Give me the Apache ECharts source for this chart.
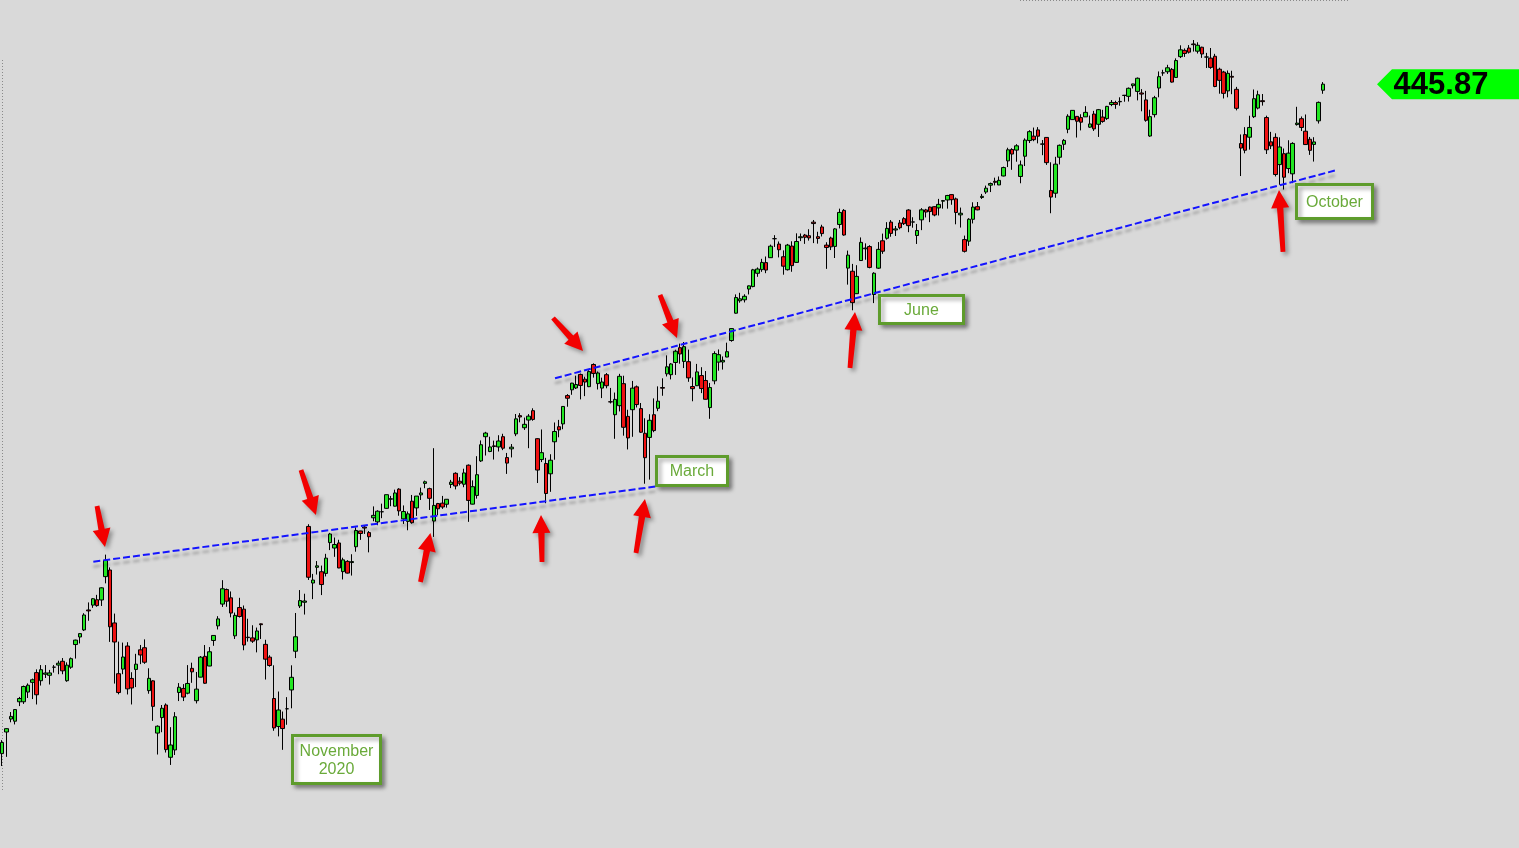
<!DOCTYPE html>
<html>
<head>
<meta charset="utf-8">
<style>
html,body{margin:0;padding:0;background:#d9d9d9;}
#c{width:1519px;height:848px;}
</style>
<script src="https://cdn.jsdelivr.net/npm/echarts@6/dist/echarts.min.js"></script>
</head>
<body>
<div id="c"></div>
<script>
// ---- trading days (category axis) ----
const months = ['2020-07','2020-08','2020-09','2020-10','2020-11','2020-12','2021-01','2021-02','2021-03','2021-04','2021-05','2021-06','2021-07','2021-08','2021-09','2021-10'];
const monthDays = [
 [30,31],
 [3,4,5,6,7,10,11,12,13,14,17,18,19,20,21,24,25,26,27,28,31],
 [1,2,3,4,8,9,10,11,14,15,16,17,18,21,22,23,24,25,28,29,30],
 [1,2,5,6,7,8,9,12,13,14,15,16,19,20,21,22,23,26,27,28,29,30],
 [2,3,4,5,6,9,10,11,12,13,16,17,18,19,20,23,24,25,27,30],
 [1,2,3,4,7,8,9,10,11,14,15,16,17,18,21,22,23,24,28,29,30,31],
 [4,5,6,7,8,11,12,13,14,15,19,20,21,22,25,26,27,28,29],
 [1,2,3,4,5,8,9,10,11,12,16,17,18,19,22,23,24,25,26],
 [1,2,3,4,5,8,9,10,11,12,15,16,17,18,19,22,23,24,25,26,29,30,31],
 [1,5,6,7,8,9,12,13,14,15,16,19,20,21,22,23,26,27,28,29,30],
 [3,4,5,6,7,10,11,12,13,14,17,18,19,20,21,24,25,26,27,28],
 [1,2,3,4,7,8,9,10,11,14,15,16,17,18,21,22,23,24,25,28,29,30],
 [1,2,6,7,8,9,12,13,14,15,16,19,20,21,22,23,26,27,28,29,30],
 [2,3,4,5,6,9,10,11,12,13,16,17,18,19,20,23,24,25,26,27,30,31],
 [1,2,3,7,8,9,10,13,14,15,16,17,20,21,22,23,24,27,28,29,30],
 [1,4,5,6,7,8,11,12,13,14,15]
];

// ---- daily prices ----
const opens = [
 321.9,325.9,
 328.3,327.9,331.5,331.5,333.3,335.1,336.9,335.4,336.6,336.4,337.9,338.3,339.0,335.4,337.9,342.1,343.5,344.8,348.5,349.4,350.4,
 350.35,354.67,355.9,346.1,336.7,337.55,341.82,335.82,337.49,341.12,341.51,333.56,335.37,325.7,328.57,330.9,321.22,322.58,333.22,333.97,333.09,
 337.69,331.7,336.06,339.91,338.12,342.85,345.56,349.59,352.28,350.75,343.71,348.96,348.65,343.46,343.33,342.96,345.93,342.13,339.76,332.1,326.91,328.28,
 330.2,333.69,340.86,349.24,349.93,363.97,353.49,356.4,355.58,355.27,360.98,359.97,360.91,355.6,357.5,357.28,360.21,363.13,363.84,362.83,
 365.57,364.82,366.68,367.32,369.02,367.72,370.88,365.37,364.9,368.64,367.4,369.82,371.94,370.97,364.97,368.21,368.28,368.08,371.74,373.81,372.34,371.78,
 375.31,368.1,369.71,376.1,380.59,377.85,378.89,378.69,380.59,376.72,378.34,381.11,384.49,382.25,383.67,385.41,380.22,376.36,375.63,
 373.72,379.65,382.44,382.96,388.2,389.27,389.61,392.12,391.24,389.85,393.96,390.42,389.59,392.07,387.06,384.66,386.33,390.41,384.35,
 385.59,389.82,385.79,381.22,380.46,384.66,385.85,389.69,392.23,392.07,394.33,397.07,394.53,394.48,389.88,390.03,391.91,391.0,385.98,390.93,394.4,394.42,395.34,
 398.4,403.46,405.76,405.94,407.93,408.39,410.85,411.53,412.83,413.74,417.25,416.26,413.91,411.51,415.89,412.87,417.44,417.93,417.81,420.32,417.63,
 419.43,416.07,417.38,415.83,419.89,422.5,411.81,411.23,407.07,413.21,415.39,415.8,406.92,411.8,416.87,417.34,420.33,418.87,420.17,420.97,
 422.57,420.37,417.85,420.75,422.59,423.11,423.18,422.96,424.2,424.43,425.42,424.63,421.67,417.09,416.8,420.85,423.19,424.89,425.9,427.17,427.88,427.21,
 428.87,431.67,433.78,433.66,428.78,432.53,435.43,436.24,437.4,434.81,436.01,426.19,425.68,432.34,434.74,437.52,439.31,439.91,439.68,439.82,437.91,
 440.34,438.44,439.78,439.5,442.1,442.46,442.61,443.82,443.62,445.59,444.53,444.24,442.96,436.27,440.23,445.16,447.97,448.17,448.61,447.12,450.97,452.13,
 452.56,453.32,451.98,452.71,450.89,450.7,451.04,448.64,448.12,444.62,447.32,444.92,434.88,436.53,436.05,439.85,441.44,442.81,439.69,435.19,436.02,
 430.98,433.0,430.24,429.27,438.39,439.48,437.16,435.67,434.71,439.08,444.75
];
const highs = [
 324.4,326.6,
 329.6,330.1,332.4,334.5,334.9,335.8,337.5,338.3,338.3,337.4,338.3,339.1,339.6,338.8,339.7,343.0,344.2,347.9,349.9,350.7,351.3,
 352.7,358.75,356.38,347.83,342.64,342.46,342.53,336.97,340.38,342.02,343.06,337.7,335.49,327.13,330.9,331.2,326.8,329.58,334.96,334.77,338.29,
 338.74,337.02,339.96,342.01,341.63,343.85,347.35,354.02,352.47,351.93,348.02,350.75,349.33,346.88,345.67,345.24,345.99,342.98,340.12,338.25,333.4,329.69,
 332.36,338.25,347.94,352.19,351.51,364.38,355.18,357.56,356.72,358.9,362.78,361.92,361.5,358.18,357.72,358.82,363.81,363.16,364.18,363.12,
 367.68,366.96,368.19,369.85,369.62,370.78,371.05,367.86,366.74,369.8,369.59,371.16,372.46,371.15,378.46,368.33,369.62,369.03,372.59,374.0,373.1,374.66,
 375.45,372.5,376.98,379.9,381.49,380.58,379.86,380.86,381.13,377.58,379.23,384.79,384.95,384.13,384.77,385.85,380.32,381.93,376.67,
 377.34,383.22,383.7,386.24,388.47,390.56,391.89,392.28,391.69,392.9,394.17,392.66,391.52,392.38,389.62,388.76,392.23,391.88,385.58,
 390.92,390.07,386.83,384.0,384.76,387.68,389.91,391.4,395.65,394.21,396.69,397.83,398.12,396.72,391.57,394.07,393.46,392.75,390.55,396.41,396.75,395.45,398.0,
 400.67,406.94,407.24,406.96,408.58,411.67,411.93,413.53,413.96,416.16,417.91,416.74,415.09,416.29,416.78,418.25,418.22,418.14,419.01,420.72,418.54,
 419.84,416.6,417.63,419.21,422.82,422.74,415.05,412.59,412.35,417.49,416.39,416.06,411.05,416.63,418.2,420.32,420.71,419.61,420.72,421.25,
 422.72,421.23,419.99,422.92,422.78,423.21,423.26,424.63,424.43,425.37,425.46,424.87,423.02,417.83,421.06,424.0,424.05,425.55,427.09,427.65,428.56,428.78,
 430.6,434.1,434.01,434.76,431.73,435.84,437.35,437.84,437.92,435.53,436.06,431.41,432.42,434.7,435.72,440.3,441.03,439.94,440.3,441.8,440.06,
 440.93,441.28,441.12,441.85,442.94,442.8,443.44,443.88,445.26,445.94,447.11,444.96,444.63,441.14,443.71,448.23,448.54,449.46,448.86,450.65,453.07,452.49,
 453.11,454.05,453.63,452.81,451.67,452.57,451.49,448.92,448.34,448.41,448.36,445.37,436.56,437.91,440.03,444.89,444.67,444.05,440.04,437.04,436.77,
 436.03,433.96,435.49,435.12,441.68,439.89,440.26,436.1,436.05,442.66,446.26
];
const lows = [
 319.6,321.3,
 327.7,327.3,330.7,331.1,332.2,332.0,331.0,334.5,335.9,334.7,336.9,336.6,336.6,335.2,337.6,339.5,342.3,344.6,346.5,348.9,349.1,
 349.24,353.43,342.59,334.87,332.88,336.61,332.85,331.0,334.22,338.47,338.52,332.99,327.97,321.73,325.86,322.1,319.8,321.64,331.63,331.63,332.88,
 335.01,331.19,336.01,334.82,338.09,341.86,344.89,349.06,349.09,347.14,343.13,347.1,341.04,342.64,342.4,340.65,343.13,335.62,337.99,326.13,325.09,322.6,
 327.24,330.29,339.59,348.86,347.65,354.06,350.51,355.06,351.26,354.71,359.59,358.34,356.24,354.15,355.25,354.87,359.29,361.48,362.58,359.17,
 364.93,364.2,365.5,367.22,367.72,367.67,365.95,364.43,363.26,364.47,365.92,368.87,371.05,367.02,362.03,366.03,367.22,367.45,371.07,370.83,371.57,371.23,
 364.82,368.05,369.12,375.91,377.1,377.72,376.36,377.85,378.1,373.7,376.75,380.69,383.25,381.84,378.46,383.54,372.01,375.89,368.27,
 370.38,376.32,380.48,381.97,386.14,388.35,389.42,387.5,388.1,389.77,391.53,389.33,387.74,389.55,386.74,380.2,385.27,380.78,378.23,
 380.57,386.0,381.31,371.88,372.64,381.42,385.31,388.17,391.74,391.2,392.03,394.11,393.3,390.75,387.15,389.97,388.66,387.47,383.9,390.29,392.81,393.02,395.31,
 398.18,403.38,405.4,405.45,406.93,408.26,410.2,411.12,410.87,413.69,415.73,413.79,410.59,411.36,411.13,412.79,416.81,416.3,416.9,416.44,416.34,
 417.67,411.67,415.15,413.68,419.16,417.81,408.75,404.0,407.02,413.18,413.36,411.77,405.33,411.67,414.45,417.08,417.62,417.76,418.99,419.79,
 418.46,419.29,416.28,418.84,421.19,420.32,421.41,421.55,422.82,422.82,423.54,419.92,419.32,414.7,415.93,420.08,422.51,424.62,425.55,425.89,427.13,427.18,
 428.8,430.52,430.01,431.51,427.52,430.71,434.97,435.31,434.91,432.72,430.92,421.97,424.83,431.01,433.69,436.79,439.26,435.99,437.31,439.81,437.77,
 437.21,436.1,438.73,439.25,441.8,441.31,441.88,442.62,442.66,445.07,442.87,440.85,438.92,436.12,439.71,443.44,447.42,447.77,446.16,447.06,450.71,450.92,
 451.55,451.91,451.55,450.74,448.86,448.72,445.31,444.11,443.22,443.44,444.02,441.02,428.86,433.07,433.75,439.6,441.21,441.9,432.94,433.85,428.78,
 427.23,426.36,429.39,427.54,438.2,437.19,434.62,432.78,431.54,438.58,444.09
];
const closes = [
 323.96,326.52,
 328.79,330.06,332.11,334.33,334.57,335.57,332.8,337.44,336.83,336.84,337.91,338.64,337.23,338.28,339.48,342.92,344.12,347.57,348.33,350.58,349.31,
 352.6,357.7,345.39,342.57,333.21,339.79,333.89,334.06,338.46,340.17,338.82,335.84,330.65,326.97,330.3,322.64,323.5,328.73,334.19,332.37,334.89,
 337.04,333.84,339.76,334.93,340.76,343.78,346.85,352.43,350.13,347.93,347.5,347.29,342.01,343.38,342.73,344.61,345.78,339.39,338.22,326.66,329.98,326.54,
 330.2,336.03,343.54,350.24,350.16,354.56,354.04,356.67,353.21,358.1,362.57,360.62,356.28,357.78,355.33,357.46,363.22,362.66,363.67,362.06,
 366.02,366.79,366.69,369.85,369.09,370.17,366.85,366.73,366.3,364.66,369.59,370.17,372.24,369.18,367.86,367.24,367.57,369.0,372.17,371.46,371.99,373.88,
 368.79,371.33,373.55,379.1,381.26,378.69,378.77,379.79,378.46,375.7,378.65,383.89,384.24,382.88,384.39,383.79,374.41,377.63,370.07,
 376.23,381.55,381.85,386.19,387.71,390.51,390.25,390.08,390.71,392.64,392.3,392.39,390.72,390.03,387.03,387.5,391.77,382.33,380.36,
 389.58,386.54,381.42,376.7,383.63,381.72,387.17,389.58,393.53,394.06,396.41,395.91,397.26,391.48,389.48,392.59,389.5,387.52,389.7,395.98,395.78,394.73,396.33,
 400.61,406.36,406.12,406.59,408.52,411.49,411.64,412.86,411.45,415.87,417.26,415.21,412.17,416.07,412.27,416.74,417.61,417.52,417.4,420.06,417.3,
 418.2,415.62,415.75,419.07,422.12,417.94,414.21,405.41,410.28,416.58,415.52,411.94,410.86,415.28,414.94,419.17,418.24,419.07,419.29,420.04,
 419.67,420.33,418.77,422.6,422.19,422.28,421.65,423.61,424.31,425.26,424.48,422.11,421.97,414.92,420.86,423.11,422.6,425.1,426.61,427.47,427.7,428.06,
 430.43,433.72,432.93,434.46,430.92,435.52,437.08,435.59,436.24,434.75,431.34,424.97,431.06,434.55,435.46,439.94,441.02,439.01,438.83,440.65,438.51,
 437.59,441.15,438.98,441.76,442.49,442.13,442.68,443.78,445.11,445.92,446.97,444.04,439.18,439.86,443.36,447.26,447.97,448.91,446.26,450.25,452.23,451.56,
 451.8,453.19,453.08,451.46,450.91,448.98,445.44,446.58,444.17,447.88,447.17,441.4,434.04,433.63,437.86,443.18,443.91,442.64,433.72,434.45,429.14,
 434.24,428.64,433.1,434.9,438.66,437.86,434.69,433.62,435.18,442.5,445.87
];

// ---- trend lines: [startIndex, startPrice, endIndex, endPrice] ----
const trendLines = [
 [21.12, 357.44, 151.5, 371.37],
 [128.1, 391.41, 309.3, 429.98]
];

// ---- annotations: arrow tips (index, price) and callout texts ----
const arrowTips = [[23.83,360.16],[72.71,366.09],[99.24,362.76],[124.85,366.09],[134.58,396.46],[148.94,369.05],[156.36,398.87],[197.6,403.68],[295.84,426.28]];
const arrowTails = [[-8,-41],[-15,-45],[-10,49],[1,47],[-30,-33],[-9,54],[-17,-43],[-5,56],[4,62]]; // pixel offsets of tails from tips
const calloutTexts = ['November\n2020', 'March', 'June', 'October'];
const calloutAt = [[77.47,320.81],[159.83,374.24],[213.0,404.15],[308.7,424.15]];
const calloutSize = [[89,49],[72,30],[85,29],[77,35]];

// ---- build ----
const categories = [];
months.forEach((m, k) => monthDays[k].forEach(d => categories.push(m + '-' + String(d).padStart(2,'0'))));
const N = categories.length;
const candleData = closes.map((c, i) => [opens[i], c, lows[i], highs[i]]);

const chart = echarts.init(document.getElementById('c'));
const FONT = "'Liberation Sans', Arial, sans-serif";

chart.setOption({
  backgroundColor:'#d9d9d9',
  animation:false,
  grid:{left:0, right:194, top:0, bottom:0},
  xAxis:[
    {type:'category', data:categories, show:false, boundaryGap:true},
    {type:'value', min:-0.5, max:N-0.5, show:false}
  ],
  yAxis:{type:'value', min:304.42, max:461.46, show:false, splitLine:{show:false}},
  series:[
    {type:'candlestick', data:candleData, barWidth:4, barMaxWidth:6, z:2,
     itemStyle:{color:'#22e622', color0:'#ee1111', borderColor:'#000', borderColor0:'#000', borderWidth:1}},
    {type:'custom', xAxisIndex:1, yAxisIndex:0, data:trendLines, clip:false, z:3, silent:true,
     renderItem:function(params, api){
       const a = api.coord([api.value(0), api.value(1)]);
       const b = api.coord([api.value(2), api.value(3)]);
       return {type:'line', shape:{x1:a[0], y1:a[1], x2:b[0], y2:b[1]},
         style:{stroke:'#1414ff', lineWidth:2, lineDash:[7,3], fill:null,
                shadowColor:'rgba(0,0,0,0.28)', shadowBlur:3, shadowOffsetY:5}};
     }}
  ]
});

function px(p){ return chart.convertToPixel({xAxisIndex:1, yAxisIndex:0}, p); }

const graphics = [];
// dotted frame pieces
graphics.push({type:'line', shape:{x1:2.5,y1:60,x2:2.5,y2:790}, style:{stroke:'#8a8a8a', lineWidth:1, lineDash:[1,2]}, z:1});
graphics.push({type:'line', shape:{x1:1020,y1:0.5,x2:1350,y2:0.5}, style:{stroke:'#8a8a8a', lineWidth:1, lineDash:[1,2]}, z:1});

// arrows
arrowTips.forEach((t, i) => {
  const tip = px(t);
  const tail = [tip[0] + arrowTails[i][0], tip[1] + arrowTails[i][1]];
  const dx = tip[0]-tail[0], dy = tip[1]-tail[1];
  const L = Math.hypot(dx, dy);
  const ux = dx/L, uy = dy/L, nx = -uy, ny = ux;
  const hl = 18, hw = 9, sw = 3.2, tw = 2.4;
  const bx = tip[0]-ux*hl, by = tip[1]-uy*hl;
  const pts = [
    [tail[0]+nx*tw, tail[1]+ny*tw],
    [bx+nx*sw, by+ny*sw],
    [bx+nx*hw, by+ny*hw],
    [tip[0], tip[1]],
    [bx-nx*hw, by-ny*hw],
    [bx-nx*sw, by-ny*sw],
    [tail[0]-nx*tw, tail[1]-ny*tw]
  ];
  graphics.push({type:'polygon', shape:{points:pts}, z:20,
    style:{fill:'#f20000', shadowColor:'rgba(0,0,0,0.35)', shadowBlur:4, shadowOffsetX:3, shadowOffsetY:3}});
});

// callout boxes
calloutTexts.forEach((txt, i) => {
  const c = px(calloutAt[i]);
  const w = calloutSize[i][0], h = calloutSize[i][1];
  graphics.push({type:'rect', shape:{x:Math.round(c[0]-w/2)+0.5, y:Math.round(c[1]-h/2)+0.5, width:w-1, height:h-1}, z:25,
    style:{fill:'#ffffff', stroke:'#5e9c2c', lineWidth:3, shadowColor:'rgba(0,0,0,0.35)', shadowBlur:4, shadowOffsetX:3, shadowOffsetY:3}});
  graphics.push({type:'text', x:c[0], y:c[1]+1, z:26,
    style:{text:txt, fill:'#6aaa3a', font:'16px ' + FONT, align:'center', verticalAlign:'middle', lineHeight:18}});
});

// last price tag
const lastY = px([N-1, closes[N-1]])[1];
graphics.push({type:'polygon', z:30, shape:{points:[[1377,lastY],[1392,lastY-15],[1519,lastY-15],[1519,lastY+15],[1392,lastY+15]]},
  style:{fill:'#00ff00'}});
graphics.push({type:'text', x:1441, y:lastY+1, z:31,
  style:{text:closes[N-1].toFixed(2), fill:'#000', font:'bold 31px ' + FONT, align:'center', verticalAlign:'middle'}});

chart.setOption({graphic:graphics});
</script>
</body>
</html>
